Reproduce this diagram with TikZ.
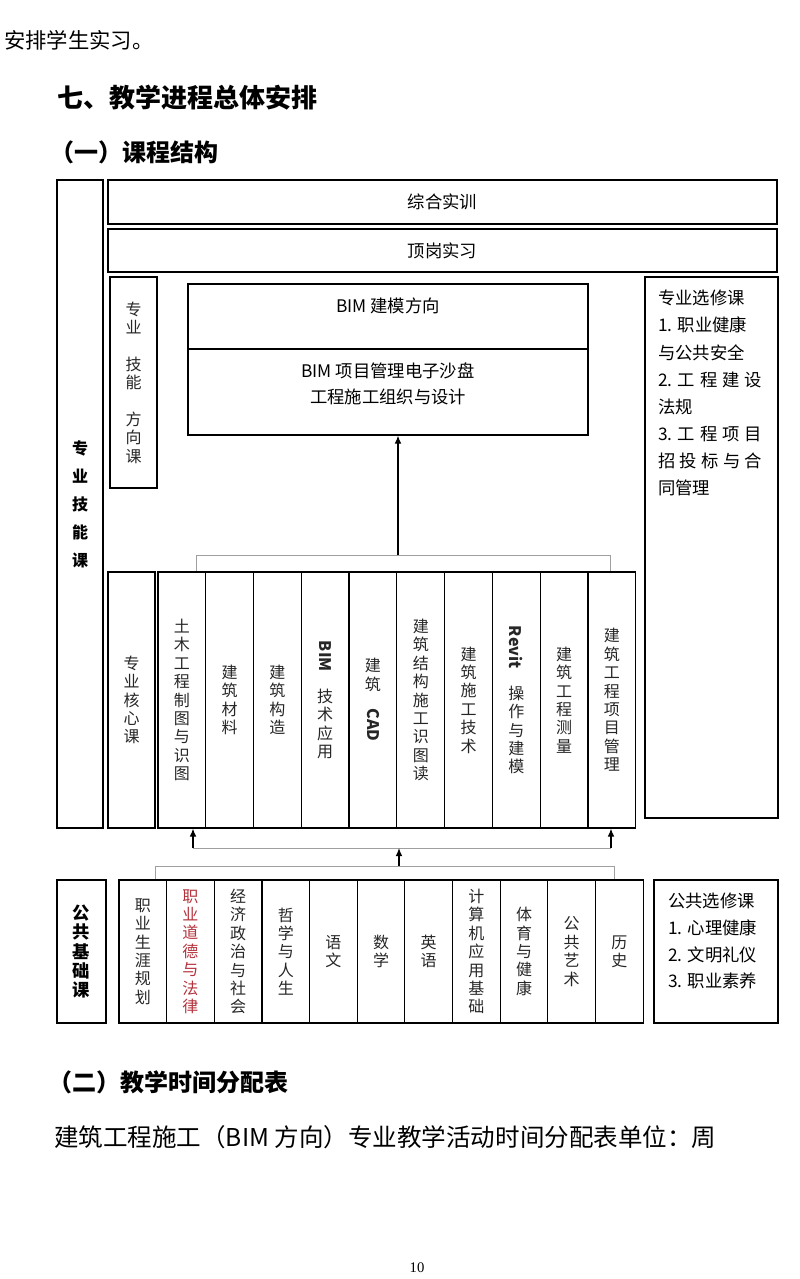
\documentclass[tikz,border=0pt]{standalone}
\usepackage{fontspec}
\setmainfont{Noto Sans CJK SC}
\newfontfamily\pagefont{Liberation Serif}
\usepackage{xcolor}
\usepackage{tikz}
\usetikzlibrary{arrows.meta, positioning, calc, fit}

\definecolor{lawred}{RGB}{180,50,60}
\newcommand{\spreadline}[1]{\makebox[78pt][s]{#1}}

\tikzset{
  box/.style={draw, line width=0.9pt, inner sep=0pt, align=center},
  size/.style 2 args={minimum width=#1*0.75pt, minimum height=#2*0.75pt},
  vtext/.style={font=\fontsize{12pt}{13.8pt}\selectfont, text=black!85},
  col/.style={box, vtext, size={47.77}{256}},
  basecol/.style={box, vtext, size={47.65}{143}},
  brace/.style={draw=gray!75, line width=0.6pt},
  up/.style={-{Latex[length=6pt, width=5pt]}, line width=0.9pt},
  plain/.style={anchor=west, inner sep=0pt},
}

\begin{document}
\begin{tikzpicture}[x=0.75pt, y=-0.75pt]
  \useasboundingbox (0,0) rectangle (800,1279);
  % Text of the page above the chart
  \node[plain, font=\fontsize{16pt}{18pt}\selectfont] (intro) at (4,40) {安排学生实习。};
  \node[plain, font=\fontsize{19.5pt}{22pt}\selectfont\bfseries] (sec7) at (57,98) {七、教学进程总体安排};
  \node[plain, font=\fontsize{18pt}{20pt}\selectfont\bfseries] (sub1) at (50,152) {（一）课程结构};

  % Professional skill block
  \node[box, size={46}{648}, font=\fontsize{12pt}{21pt}\selectfont\bfseries] (zyjnk) at (80,504) {专\\业\\技\\能\\课};
  \node[box, size={669}{44}, font=\fontsize{13pt}{15pt}\selectfont] (zhsx) at (442.5,202) {综合实训};
  \node[box, size={669}{43}, font=\fontsize{13pt}{15pt}\selectfont] (dgsx) at (442.5,250.5) {顶岗实习};
  \node[box, vtext, size={47}{211}] (fxk) at (133.5,382.5) {专\\业\\[13.8pt]技\\能\\[13.8pt]方\\向\\课};
  \node[box, fit={(188,284) (588,349)}] (bimtop) {};
  \node[box, fit={(188,349) (588,435)}] (bimbot) {};
  \node[font=\fontsize{13pt}{15pt}\selectfont] (bimt) at (388,306) {BIM 建模方向};
  \node[font=\fontsize{13pt}{20pt}\selectfont, align=center] (bimb) at (388,384) {BIM 项目管理电子沙盘\\工程施工组织与设计};
  \node[box, fit={(645,277) (778,818)}] (zyxx) {};
  \node[anchor=north west, inner sep=0pt, align=left, font=\fontsize{13pt}{20.3pt}\selectfont] (zyxxt) at (658,290)
    {专业选修课\\1. 职业健康\\与公共安全\\\spreadline{2.\hfill 工\hfill 程\hfill 建\hfill 设}\\法规\\
     \spreadline{3.\hfill 工\hfill 程\hfill 项\hfill 目}\\\spreadline{招\hfill 投\hfill 标\hfill 与\hfill 合}\\同管理};

  % Core courses
  \node[box, vtext, size={47}{256}] (hxk) at (131.5,700) {专\\业\\核\\心\\课};
  \foreach \t [count=\i from 0] in {
      {土\\木\\工\\程\\制\\图\\与\\识\\图}, {建\\筑\\材\\料}, {建\\筑\\构\\造},
      {\rotatebox{-90}{\textbf{BIM}}\\[12pt]技\\术\\应\\用}, {建\\筑\\\rotatebox{-90}{\textbf{CAD}}},
      {建\\筑\\结\\构\\施\\工\\识\\图\\读}, {建\\筑\\施\\工\\技\\术},
      {\rotatebox{-90}{\textbf{Revit}}\\[12pt]操\\作\\与\\建\\模}, {建\\筑\\工\\程\\测\\量},
      {建\\筑\\工\\程\\项\\目\\管\\理}}
    \node[col] (core\i) at ({181.9+\i*47.77},700) {\t};

  % Links between the blocks
  \coordinate (tl) at (196,555);
  \coordinate (tr) at (610,555);
  \coordinate (tm) at (398,555);
  \draw[brace] (core0.north -| tl) -- (tl) -- (tr) -- (core9.north -| tr);
  \draw[up] (tm) -- (tm |- bimbot.south);

  \coordinate (ml) at (193,848);
  \coordinate (mr) at (611,848);
  \coordinate (mm) at (399,848);
  \coordinate (bl) at (155,866);
  \coordinate (br) at (614,866);
  \coordinate (bm) at (399,866);
  \draw[brace] (ml) -- (mr);
  \draw[up] (ml) -- (ml |- core0.south);
  \draw[up] (mr) -- (mr |- core9.south);
  \draw[up] (bm) -- (mm);

  % Public basic block
  \node[box, size={49}{143}, font=\fontsize{13pt}{14.5pt}\selectfont\bfseries] (ggjc) at (81.5,951.5) {公\\共\\基\\础\\课};
  \foreach \t/\c [count=\i from 0] in {
      {职\\业\\生\\涯\\规\\划}/black!85, {职\\业\\道\\德\\与\\法\\律}/lawred,
      {经\\济\\政\\治\\与\\社\\会}/black!85, {哲\\学\\与\\人\\生}/black!85,
      {语\\文}/black!85, {数\\学}/black!85, {英\\语}/black!85,
      {计\\算\\机\\应\\用\\基\\础}/black!85, {体\\育\\与\\健\\康}/black!85,
      {公\\共\\艺\\术}/black!85, {历\\史}/black!85}
    \node[basecol, text=\c] (base\i) at ({142.8+\i*47.65},951.5) {\t};
  \draw[brace] (base0.north -| bl) -- (bl) -- (br) -- (base10.north -| br);

  \node[box, fit={(654,880) (778,1023)}] (ggxx) {};
  \node[anchor=north west, inner sep=0pt, align=left, font=\fontsize{13pt}{20pt}\selectfont] (ggxxt) at (668,893)
    {公共选修课\\1. 心理健康\\2. 文明礼仪\\3. 职业素养};

  % Text of the page below the chart
  \node[plain, font=\fontsize{18pt}{20pt}\selectfont\bfseries] (sub2) at (48,1082) {（二）教学时间分配表};
  \node[plain, font=\fontsize{18.4pt}{20pt}\selectfont] (note) at (54,1137) {建筑工程施工（BIM 方向）专业教学活动时间分配表单位：周};
  \node[font=\pagefont\fontsize{11pt}{12pt}\selectfont] (pg) at (417,1268) {10};
\end{tikzpicture}
\end{document}
